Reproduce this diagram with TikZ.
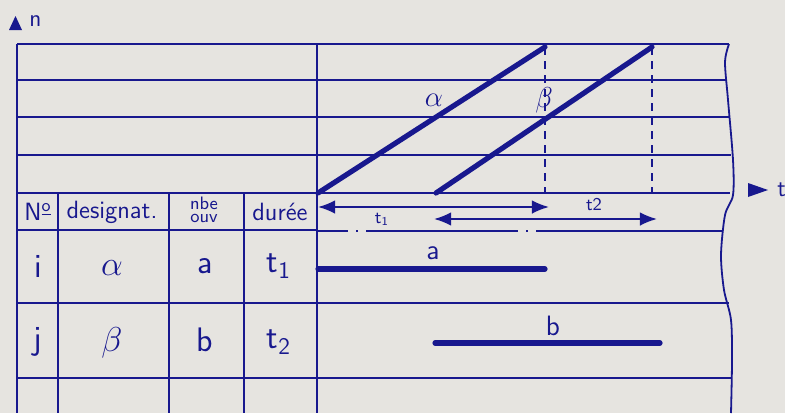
\documentclass[tikz,border=0pt]{standalone}
\usepackage{amsmath,amssymb}
\usepackage{xcolor}
\usepackage{tikz}
\usetikzlibrary{positioning,arrows.meta,calc}
\definecolor{ink}{HTML}{18188E}
\definecolor{paper}{HTML}{E6E4E0}
\tikzset{
rule/.style={
draw=ink,
line width=0.9pt
},
task/.style={
draw=ink,
line width=2.6pt,
line cap=round
},
proj/.style={
draw=ink,
line width=0.8pt,
dash pattern=on 4pt off 3pt
},
span/.style={
{Latex[length=3mm,width=2.4mm]}-{Latex[length=3mm,width=2.4mm]},
draw=ink,
line width=1pt
},
head/.style={
text=ink,
inner sep=1pt,
font=\sffamily\fontsize{12.5}{12}\selectfont
},
smallhead/.style={
text=ink,
inner sep=0pt,
font=\sffamily\fontsize{9}{9}\selectfont
},
entry/.style={
text=ink,
inner sep=1pt,
font=\sffamily\fontsize{17}{18}\selectfont
},
axlabel/.style={
text=ink,
inner sep=1pt,
font=\sffamily\fontsize{12}{13}\selectfont
}
}

\begin{document}
\begin{tikzpicture}[x=0.5pt,y=-0.5pt]
\fill[paper](0,0)rectangle(785,413);
\useasboundingbox(0,0)rectangle(785,413);

% axes
\fill[ink](9,30)--(15.5,16)--(22,30)--cycle;
\node[axlabel,anchor=west](n) at (27,21){n};
\fill[ink](748,183)--(768,190)--(748,197)--cycle;
\node[axlabel,anchor=west](t) at (775,190){t};

% frame and rows
\draw[rule](17,44)--(17,413);
\draw[rule](317,44)--(317,413);
\draw[rule](58,193)--(58,413);
\draw[rule](169,193)--(169,413);
\draw[rule](244,193)--(244,413);
\draw[rule](17,44)--(729,44);
\draw[rule](17,80)--(727,80);
\draw[rule](17,117)--(730,117);
\draw[rule](17,155)--(731,155);
\draw[rule](17,193)--(730,193);
\draw[rule](17,230)--(317,230);
\draw[rule,dash pattern=on 15.5pt off 4pt on 1pt off 4pt on 76pt off 4pt on 1pt off 4pt on 100pt off 0pt](317,231)--(722,231);
\draw[rule](17,303)--(729,303);
\draw[rule](17,378)--(731,378);
\draw[rule] plot[smooth] coordinates{(729,44)(725,62)(728,100)(733,160)(733,195)(725,215)(721,255)(724,290)(731,320)(732,360)(731,413)};

% table
\node[head](no) at (38,212){N\textsuperscript{\underline{o}}};
\node[head](des) at (112,212){designat.};
\node[smallhead,anchor=south](nbe) at (204,210){nbe};
\node[smallhead,below=2pt of nbe](ouv){ouv};
\node[head](dur) at (280,212){dur\'ee};
\node[entry](ri) at (38,266){i};
\node[entry](ra) at (112,268){$\alpha$};
\node[entry](rna) at (205,266){a};
\node[entry](rta) at (279,266){t\textsubscript{1}};
\node[entry](rj) at (38,342){j};
\node[entry](rb) at (112,343){$\beta$};
\node[entry](rnb) at (205,340){b};
\node[entry](rtb) at (279,342){t\textsubscript{2}};

% chart
\coordinate(aS) at (318,193);
\coordinate(aE) at (545,47);
\coordinate(bS) at (436,193);
\coordinate(bE) at (652,47);
\draw[task](aS)--(aE);
\draw[task](bS)--(bE);
\draw[proj](aE)--(aE|-aS);
\draw[proj](bE)--(bE|-bS);
\node[entry,font=\fontsize{15}{16}\selectfont](la) at (434,100){$\alpha$};
\node[entry,font=\fontsize{15}{16}\selectfont](lb) at (544,100){$\beta$};

\coordinate(t1L) at (318,207);
\coordinate(t1R) at (549,207);
\coordinate(t2L) at (434,219);
\coordinate(t2R) at (657,219);
\draw[span](t1L)--(t1R);
\draw[span](t2L)--(t2R);
\node[axlabel,font=\sffamily\fontsize{9}{10}\selectfont](lt1) at (382,219){t\textsubscript{1}};
\node[axlabel,font=\sffamily\fontsize{9}{10}\selectfont](lt2) at (594,205){t2};

\coordinate(aL) at (318,269);
\coordinate(aR) at (545,269);
\coordinate(bL) at (435,343);
\coordinate(bR) at (660,343);
\draw[task](aL)--(aR);
\draw[task](bL)--(bR);
\node[entry,font=\sffamily\fontsize{14}{15}\selectfont](ba) at (433,253){a};
\node[entry,font=\sffamily\fontsize{14}{15}\selectfont](bb) at (553,326){b};
\end{tikzpicture}
\end{document}
